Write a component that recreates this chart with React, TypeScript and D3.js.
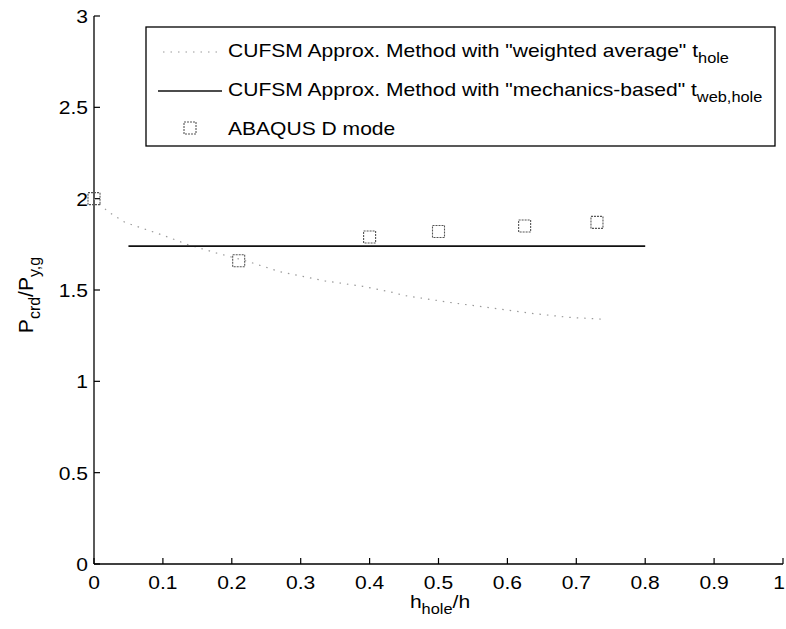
import React from "react";
import * as d3 from "d3";

// ---- data ----
const weightedX = [0, 0.02, 0.045, 0.1, 0.135, 0.18, 0.22, 0.27, 0.335, 0.39, 0.43, 0.45, 0.52, 0.56, 0.6, 0.64, 0.69, 0.74];
const weightedY = [2.0, 1.93, 1.87, 1.8, 1.75, 1.7, 1.66, 1.6, 1.55, 1.52, 1.49, 1.47, 1.43, 1.41, 1.39, 1.37, 1.35, 1.34];

const mechX = [0.05, 0.8];
const mechY = [1.74, 1.74];

const abaqusX = [0, 0.21, 0.4, 0.5, 0.625, 0.73];
const abaqusY = [2.0, 1.66, 1.79, 1.82, 1.85, 1.87];

const xTicks = [0, 0.1, 0.2, 0.3, 0.4, 0.5, 0.6, 0.7, 0.8, 0.9, 1];
const xTickLabels = ["0", "0.1", "0.2", "0.3", "0.4", "0.5", "0.6", "0.7", "0.8", "0.9", "1"];
const yTicks = [0, 0.5, 1, 1.5, 2, 2.5, 3];
const yTickLabels = ["0", "0.5", "1", "1.5", "2", "2.5", "3"];

const legendLabels = [
  { main: 'CUFSM Approx. Method with "weighted average" t', sub: "hole" },
  { main: 'CUFSM Approx. Method with "mechanics-based" t', sub: "web,hole" },
  { main: "ABAQUS D mode", sub: "" },
];

// ---- layout ----
const W = 786;
const H = 629;
const left = 94;
const right = 783;
const top = 16;
const bottom = 564;
const FONT = "'Liberation Sans', Arial, Helvetica, sans-serif";
const FS = 18;
const SX = 1.17;

const x = d3.scaleLinear().domain([0, 1]).range([left, right]);
const y = d3.scaleLinear().domain([0, 3]).range([bottom, top]);

const lineGen = d3
  .line<[number, number]>()
  .x((d) => x(d[0]))
  .y((d) => y(d[1]));

const weightedPts: [number, number][] = weightedX.map((v, i) => [v, weightedY[i]]);
const mechPts: [number, number][] = mechX.map((v, i) => [v, mechY[i]]);

function SText(props: { x: number; y: number; anchor?: string; size?: number; children: any }) {
  const { x: tx, y: ty, anchor = "start", size = FS, children } = props;
  return (
    <text
      transform={`translate(${tx},${ty}) scale(${SX},1)`}
      textAnchor={anchor as any}
      fontSize={size}
      fontFamily={FONT}
      fill="#000"
    >
      {children}
    </text>
  );
}

const SQ = 12;

export default function App() {
  const legX = 146;
  const legY = 27;
  const legW = 629;
  const legH = 119;
  const rowY = [50, 89, 128];

  return (
    <svg
      width={W}
      height={H}
      style={{ position: "absolute", left: 0, top: 0, background: "#fff" }}
      xmlns="http://www.w3.org/2000/svg"
    >
      <rect x={0} y={0} width={W} height={H} fill="#fff" />

      {/* axes */}
      <line x1={left} y1={top} x2={left} y2={bottom} stroke="#000" strokeWidth={1.3} />
      <line x1={left} y1={bottom} x2={right} y2={bottom} stroke="#000" strokeWidth={1.3} />

      {xTicks.map((t, i) => (
        <g key={"xt" + i}>
          <line x1={x(t)} x2={x(t)} y1={bottom} y2={bottom - 6} stroke="#000" strokeWidth={1.2} />
          <SText x={Math.min(x(t), 779)} y={bottom + 25} anchor="middle">
            {xTickLabels[i]}
          </SText>
        </g>
      ))}
      {yTicks.map((t, i) => (
        <g key={"yt" + i}>
          <line x1={left} x2={left + 6} y1={y(t)} y2={y(t)} stroke="#000" strokeWidth={1.2} />
          <SText x={left - 6} y={y(t) + 7} anchor="end">
            {yTickLabels[i]}
          </SText>
        </g>
      ))}

      {/* axis labels */}
      <SText x={440} y={608} anchor="middle">
        h
        <tspan fontSize={14} dy={6}>
          hole
        </tspan>
        <tspan dy={-6}>/h</tspan>
      </SText>
      <text
        transform={`translate(33,${(top + bottom) / 2 + 5}) rotate(-90)`}
        textAnchor="middle"
        fontSize={21}
        fontFamily={FONT}
        fill="#000"
      >
        P
        <tspan fontSize={16} dy={7}>
          crd
        </tspan>
        <tspan dy={-7}>/P</tspan>
        <tspan fontSize={16} dy={7}>
          y,g
        </tspan>
      </text>

      {/* series */}
      <path d={lineGen(weightedPts) || ""} fill="none" stroke="#9a9a9a" strokeWidth={1.2} strokeDasharray="1.5 6" />
      <path d={lineGen(mechPts) || ""} fill="none" stroke="#111" strokeWidth={1.6} />
      {abaqusX.map((v, i) => (
        <rect
          key={"sq" + i}
          x={x(v) - SQ / 2}
          y={y(abaqusY[i]) - SQ / 2}
          width={SQ}
          height={SQ}
          fill="none"
          stroke="#555"
          strokeWidth={1.1}
          strokeDasharray="2 1"
        />
      ))}

      {/* legend */}
      <rect x={legX} y={legY} width={legW} height={legH} fill="#fff" stroke="#000" strokeWidth={1.3} />
      <line x1={163} x2={220} y1={rowY[0] + 2} y2={rowY[0] + 2} stroke="#9a9a9a" strokeWidth={1.2} strokeDasharray="1.5 6" />
      <line x1={158} x2={222} y1={rowY[1] + 2} y2={rowY[1] + 2} stroke="#111" strokeWidth={1.6} />
      <rect x={190 - SQ / 2} y={rowY[2] - SQ / 2} width={SQ} height={SQ} fill="none" stroke="#555" strokeWidth={1.1} strokeDasharray="2 1" />
      {legendLabels.map((l, i) => (
        <SText key={"lg" + i} x={228} y={rowY[i] + 7}>
          {l.main}
          {l.sub ? (
            <tspan fontSize={14} dy={6}>
              {l.sub}
            </tspan>
          ) : null}
        </SText>
      ))}
    </svg>
  );
}
